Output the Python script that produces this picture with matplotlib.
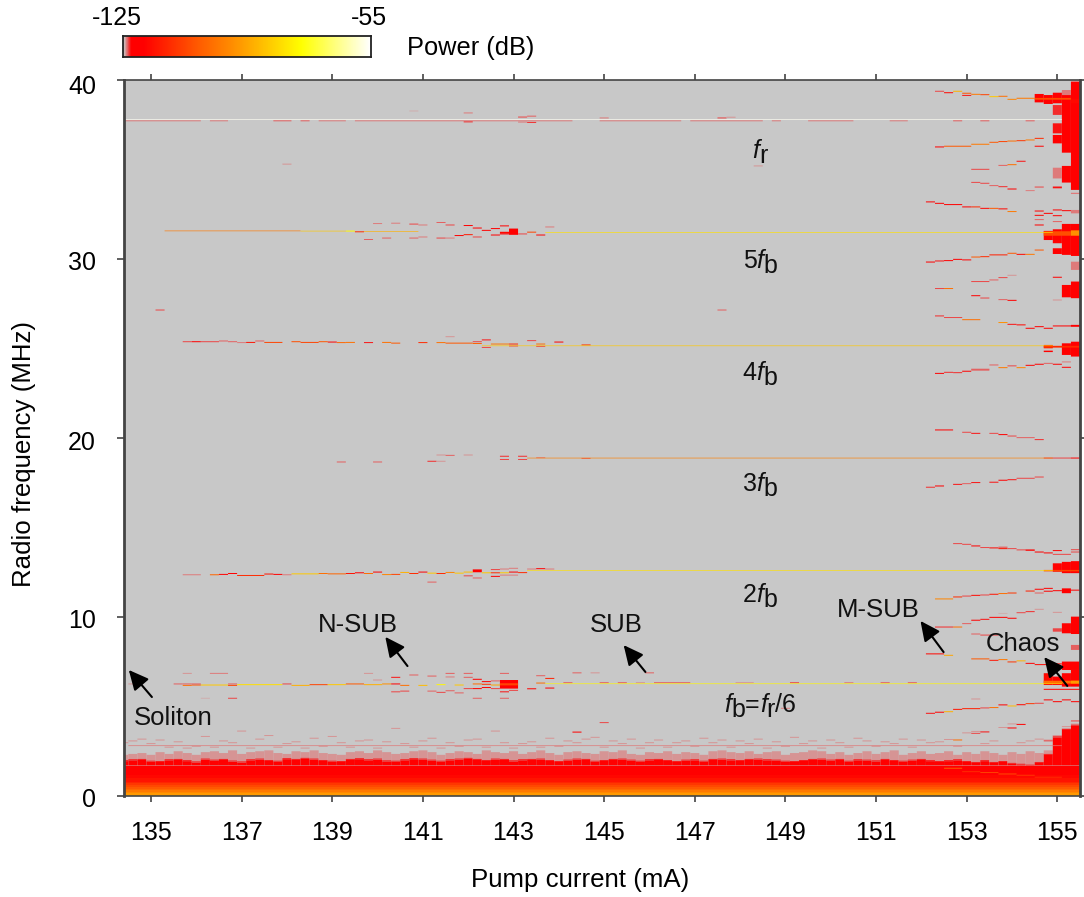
import numpy as np
import matplotlib
matplotlib.use('Agg')
import matplotlib.pyplot as plt
from matplotlib.colors import LinearSegmentedColormap, Normalize
from matplotlib.transforms import ScaledTranslation

plt.rcParams['font.family'] = ['Liberation Sans', 'DejaVu Sans']

# measurement columns, pump current in mA
currents = [round(134.4 + 0.2 * i, 1) for i in range(106)]

# top of the solid low frequency band, one per column
floor_top = [1.95, 2.00, 2.02, 1.92, 1.90, 2.00, 2.02, 1.95, 1.88, 2.04,
             1.98, 2.02, 1.93, 1.88, 2.00, 2.04, 1.96, 1.92, 2.06, 2.02,
             2.08, 2.04, 1.96, 1.92, 1.90, 2.02, 2.06, 2.00, 2.04, 1.94,
             1.92, 2.00, 2.06, 2.04, 1.98, 1.92, 2.00, 2.04, 2.08, 2.02,
             1.96, 2.04, 2.02, 1.94, 2.00, 2.02, 2.04, 1.96, 1.90, 1.98,
             2.04, 2.02, 1.92, 1.96, 2.02, 2.04, 1.98, 1.92, 2.00, 2.02,
             1.96, 1.90, 1.98, 2.00, 1.92, 2.02, 2.04, 2.00, 1.96, 2.02,
             2.04, 2.00, 1.98, 1.92, 1.90, 1.96, 2.02, 2.04, 1.98, 2.02,
             1.92, 2.00, 1.98, 1.94, 2.02, 1.96, 1.92, 1.98, 2.02, 1.95,
             1.90, 1.95, 2.00, 1.90, 1.85, 1.95, 1.85, 1.90, 1.80, 1.75,
             1.70, 1.85, 2.30, 3.28, 3.69, 3.93]

# pale speckle above the band: top of the speckle and a stray row higher up
fringe_low = [2.30, 2.35, 2.40, 2.30, 2.45, 2.35, 2.50, 2.40, 2.30, 2.45,
              2.50, 2.40, 2.55, 2.35, 2.45, 2.50, 2.55, 2.40, 2.35, 2.50,
              2.45, 2.55, 2.40, 2.35, 2.30, 2.45, 2.50, 2.40, 2.55, 2.45,
              2.35, 2.40, 2.50, 2.55, 2.45, 2.30, 2.40, 2.50, 2.45, 2.35,
              2.55, 2.45, 2.40, 2.50, 2.35, 2.45, 2.55, 2.40, 2.30, 2.45,
              2.50, 2.40, 2.35, 2.50, 2.45, 2.55, 2.35, 2.30, 2.45, 2.40,
              2.50, 2.35, 2.45, 2.40, 2.30, 2.50, 2.55, 2.45, 2.40, 2.50,
              2.35, 2.45, 2.50, 2.30, 2.40, 2.45, 2.55, 2.50, 2.35, 2.45,
              2.30, 2.40, 2.50, 2.35, 2.45, 2.55, 2.30, 2.40, 2.50, 2.35,
              2.40, 2.50, 2.30, 2.45, 2.35, 2.50, 2.40, 2.30, 2.45, 2.35,
              2.50, 2.40, 2.55, 3.40, 3.80, 4.05]
fringe_high = [2.95, 3.05, 3.15, 2.90, 3.10, 2.70, 3.00, 2.65, 2.75, 3.30,
               2.70, 3.05, 2.95, 3.60, 2.65, 3.15, 3.35, 2.70, 2.90, 3.00,
               2.65, 3.20, 2.75, 3.30, 2.95, 2.70, 3.05, 3.10, 2.65, 3.00,
               3.75, 2.90, 2.70, 3.05, 3.20, 2.65, 2.95, 2.75, 3.10, 3.15,
               2.70, 3.60, 2.95, 2.65, 2.90, 3.00, 2.70, 3.20, 2.75, 3.05,
               2.95, 3.15, 3.25, 2.70, 3.05, 2.90, 3.15, 2.65, 2.95, 3.10,
               2.70, 2.95, 3.05, 2.75, 3.20, 2.95, 3.10, 2.70, 3.05, 2.90,
               3.15, 2.65, 3.00, 2.75, 3.25, 2.90, 3.05, 2.65, 3.10, 2.95,
               2.70, 3.20, 3.05, 2.75, 3.00, 2.90, 3.15, 2.70, 3.10, 2.95,
               3.00, 3.13, 2.75, 3.50, 3.58, 2.90, 3.05, 3.80, 4.00, 2.95,
               3.05, 3.15, 3.10, 3.35, 3.85, 4.15]

# vertical profile of the band, edges in MHz and power in dB
floor_freqs = [0, 0.08, 0.16, 0.24, 0.32, 0.4, 0.5, 0.6, 0.7, 0.8, 1.0, 1.2, 1.4, 1.7]
floor_power = [-89, -92, -95, -98, -101, -104, -107, -110, -113, -116, -118, -120, -122]

# continuous locked lines: first mA, last mA, MHz, dB
stable_lines = [
    (134.4, 155.0, 37.80, -56),
    (143.8, 154.8, 31.48, -80),
    (142.4, 154.8, 25.15, -84),
    (143.4, 154.8, 18.88, -97),
    (143.4, 154.8, 12.59, -80),
    (143.8, 155.0, 6.27, -76),
    (135.4, 138.2, 31.57, -98),
    (138.4, 139.2, 31.56, -84),
    (139.8, 140.8, 31.53, -88),
]

# single rows: first mA, last mA, MHz, dB
runs = [
    # fr
    (134.4, 136.0, 37.72, -124.0), (136.4, 136.6, 37.72, -124.0), (137.8, 138.0, 37.72, -123.8),
    (138.4, 138.4, 37.72, -123.8), (138.8, 139.2, 37.72, -124.0), (139.6, 144.2, 37.72, -124.0),
    (145.0, 146.6, 37.72, -124.0), (147.0, 148.4, 37.72, -124.0), (148.8, 148.8, 37.72, -124.0),
    (149.6, 150.4, 37.72, -124.0), (151.4, 151.6, 37.72, -124.0), (152.8, 152.8, 37.72, -123.8),
    (153.4, 153.4, 37.72, -123.8), (154.4, 154.4, 37.72, -123.8), (142.0, 142.0, 37.66, -123.2),
    (142.0, 142.0, 38.16, -124.0), (143.2, 143.2, 37.93, -123.6), (143.2, 143.2, 37.65, -124.0),
    (143.4, 143.4, 37.98, -123.8), (143.4, 143.4, 37.63, -123.2), (145.0, 145.0, 37.88, -124.0),
    (147.6, 147.6, 37.88, -123.6), (147.8, 147.8, 37.92, -124.2), (140.8, 140.8, 38.27, -124.5),
    (138.0, 138.0, 35.30, -124.4), (148.4, 148.4, 35.20, -124.4),
    # 5fb, low current part
    (139.4, 139.4, 31.56, -76), (139.6, 139.6, 31.52, -112),
    (140.0, 140.0, 31.98, -124.0), (139.8, 139.8, 31.09, -123.8),
    (140.2, 140.2, 31.17, -123.8), (140.4, 140.4, 32.00, -124.0), (140.8, 140.8, 31.95, -123.6),
    (140.8, 140.8, 31.17, -123.8), (141.0, 141.0, 31.90, -124.0), (141.0, 141.0, 31.23, -124.0),
    (141.4, 141.4, 32.04, -123.8), (141.4, 141.4, 31.17, -123.6), (141.6, 141.6, 31.90, -123.6),
    (141.6, 141.6, 31.17, -124.0), (141.8, 141.8, 31.31, -122.5), (142.0, 142.0, 31.36, -115),
    (142.2, 142.2, 31.73, -122.5), (142.2, 142.2, 31.23, -123.6), (142.4, 142.4, 31.60, -122),
    (142.6, 142.6, 31.70, -122), (142.6, 142.6, 31.34, -122), (142.8, 142.8, 31.85, -122),
    (142.8, 142.8, 31.40, -122), (143.2, 143.2, 31.40, -123.4), (143.4, 143.4, 31.50, -108),
    (143.6, 143.6, 31.34, -122), (143.8, 143.8, 31.79, -124.0), (142.0, 142.0, 31.87, -122),
    # 4fb, low current part
    (135.8, 135.8, 25.38, -123.6), (136.0, 136.0, 25.38, -122), (136.2, 136.4, 25.38, -123.6),
    (136.6, 136.6, 25.42, -123.8), (136.8, 136.8, 25.38, -123.8), (137.0, 137.0, 25.33, -124.0),
    (137.2, 137.2, 25.34, -116), (137.4, 137.4, 25.42, -123.8), (137.6, 137.8, 25.34, -108),
    (138.2, 138.2, 25.38, -106), (138.4, 138.6, 25.34, -108), (138.8, 138.8, 25.38, -104),
    (139.0, 139.0, 25.36, -122), (139.2, 139.2, 25.33, -102), (139.4, 139.4, 25.34, -100),
    (139.8, 139.8, 25.33, -123), (140.2, 140.2, 25.34, -100), (140.4, 140.4, 25.30, -104),
    (141.0, 141.0, 25.33, -112), (141.4, 141.4, 25.33, -100), (141.6, 141.6, 25.66, -124.2),
    (141.6, 142.0, 25.30, -104), (142.2, 142.2, 25.38, -123.6), (142.2, 142.2, 25.28, -102),
    (142.4, 142.4, 25.48, -123), (142.4, 142.4, 25.06, -123.4), (142.6, 142.8, 25.25, -98),
    (143.0, 143.0, 25.25, -112), (143.0, 143.0, 25.14, -123.6), (143.4, 143.4, 25.44, -123.6),
    (143.6, 143.6, 25.25, -100), (143.6, 143.6, 25.12, -123.6), (144.0, 144.0, 25.36, -122.5),
    (144.6, 144.6, 25.20, -110), (135.2, 135.2, 27.15, -123.6), (147.6, 147.6, 27.15, -123.8),
    # 3fb, low current part
    (139.2, 139.2, 18.66, -123.8), (140.0, 140.0, 18.66, -123.8), (141.2, 141.2, 18.70, -123.2),
    (141.4, 141.4, 18.70, -124.2), (141.4, 141.4, 19.05, -124.2), (141.6, 141.6, 19.03, -123.8),
    (142.0, 142.0, 19.05, -124.2), (142.8, 142.8, 18.98, -123.2), (142.8, 142.8, 18.80, -123.4),
    (143.2, 143.2, 18.98, -123.2), (143.2, 143.2, 18.80, -123.4), (143.6, 143.6, 18.90, -124.0),
    (144.6, 144.6, 18.86, -123.8),
    # 2fb, low current part
    (135.8, 136.0, 12.36, -124.0), (136.4, 136.4, 12.36, -102), (136.6, 136.6, 12.38, -122.6),
    (136.8, 136.8, 12.43, -122), (137.0, 137.4, 12.32, -112), (137.6, 137.6, 12.40, -116),
    (137.8, 137.8, 12.38, -122), (138.0, 138.0, 12.36, -124.0), (138.2, 138.6, 12.41, -84),
    (138.8, 138.8, 12.43, -100), (139.0, 139.2, 12.41, -102), (139.4, 139.4, 12.43, -116),
    (139.6, 139.6, 12.47, -122), (139.8, 139.8, 12.43, -100), (140.0, 140.0, 12.51, -122),
    (140.2, 140.2, 12.37, -96), (140.4, 140.4, 12.38, -108), (140.6, 140.6, 12.49, -88),
    (140.8, 140.8, 12.43, -112), (141.0, 141.0, 12.51, -122), (141.2, 141.2, 12.45, -84),
    (141.2, 141.2, 11.95, -123.8), (141.4, 141.4, 12.43, -112), (141.6, 141.6, 12.49, -96),
    (141.8, 141.8, 12.45, -84), (142.0, 142.0, 12.51, -86), (142.0, 142.0, 12.30, -123.6),
    (142.2, 142.2, 12.18, -123.8), (142.4, 142.4, 12.47, -84), (142.6, 142.6, 12.65, -123.4),
    (142.6, 142.6, 12.47, -112), (142.6, 142.6, 12.27, -122), (142.8, 142.8, 12.68, -124.0),
    (142.8, 142.8, 12.47, -84), (142.8, 142.8, 12.34, -124.0), (143.0, 143.0, 12.72, -124.0),
    (143.0, 143.0, 12.51, -122), (143.0, 143.0, 12.34, -124.0), (143.2, 143.2, 12.48, -112),
    (143.4, 143.4, 12.68, -124.0), (143.6, 143.6, 12.70, -122), (143.8, 143.8, 12.68, -124.0),
    # fb, low current part
    (134.6, 134.6, 6.26, -124.4), (135.6, 135.6, 6.26, -123.8), (135.8, 135.8, 6.18, -100),
    (135.8, 135.8, 6.26, -123.8), (135.8, 135.8, 6.85, -124.4), (136.0, 136.0, 6.20, -104),
    (136.0, 136.0, 6.26, -123.8), (136.2, 136.6, 6.20, -84), (136.4, 136.6, 6.85, -124.0),
    (136.2, 136.2, 5.46, -124.5), (136.8, 136.8, 6.26, -123.8), (136.8, 136.8, 6.18, -108),
    (136.8, 136.8, 5.46, -123.6), (137.0, 137.8, 6.22, -80), (138.0, 138.0, 6.26, -123.6),
    (138.2, 138.4, 6.18, -88), (138.6, 138.8, 6.22, -108), (139.0, 139.2, 6.22, -84),
    (139.4, 139.6, 6.26, -104), (139.8, 140.0, 6.22, -88), (140.2, 140.2, 6.26, -94),
    (139.8, 139.8, 6.85, -124.2), (140.0, 140.0, 6.48, -124.2), (140.4, 140.4, 6.26, -122),
    (140.4, 140.4, 5.82, -123.6), (140.4, 140.4, 6.63, -123), (140.6, 140.6, 6.18, -100),
    (140.6, 140.6, 5.86, -123.6), (140.8, 140.8, 6.76, -123.8), (141.0, 141.0, 6.18, -86),
    (141.2, 141.2, 6.70, -123.8), (141.2, 141.2, 5.86, -123.8), (141.4, 141.4, 6.22, -76),
    (141.4, 141.4, 5.79, -123.4), (141.6, 141.6, 6.85, -123.8), (141.6, 141.6, 6.65, -124.0),
    (141.6, 141.6, 5.88, -123.8), (141.8, 141.8, 6.20, -84), (141.8, 141.8, 5.76, -123.8),
    (142.0, 142.0, 6.85, -123.8), (142.0, 142.0, 6.63, -123.8), (142.0, 142.0, 6.00, -123.4),
    (142.2, 142.2, 6.52, -122), (142.2, 142.2, 6.26, -100), (142.2, 142.2, 6.00, -122),
    (142.2, 142.2, 5.46, -123.8), (142.4, 142.4, 6.39, -122.5), (142.4, 142.4, 6.24, -110),
    (142.4, 142.4, 6.06, -122), (142.6, 142.6, 6.43, -123.8), (142.6, 142.6, 6.20, -90),
    (142.6, 142.6, 6.00, -123.6), (142.8, 142.8, 6.85, -123.8), (142.8, 142.8, 5.82, -123),
    (142.8, 142.8, 5.46, -123.8), (143.0, 143.0, 5.90, -123.6), (143.4, 143.4, 5.99, -122),
    (143.6, 143.6, 6.72, -123.8), (143.6, 143.6, 6.31, -100), (143.8, 143.8, 6.57, -114),
    (143.8, 143.8, 6.03, -122), (144.2, 144.2, 6.33, -123.8), (144.4, 144.4, 6.88, -123.8),
    (144.8, 144.8, 6.88, -124.2), (145.0, 145.0, 6.33, -123.8), (145.4, 145.4, 6.33, -123.8),
    (145.8, 145.8, 6.33, -124.2), (146.0, 146.0, 6.88, -123.8), (146.2, 146.8, 6.33, -123.8),
    (148.0, 148.2, 6.33, -124.3), (149.2, 149.2, 6.33, -123.6), (150.4, 150.4, 6.33, -124.0),
    (151.2, 151.2, 6.33, -123.8), (151.8, 151.8, 6.33, -123.8), (145.0, 145.0, 4.10, -123.6),
    (144.4, 144.4, 3.57, -122), (149.0, 149.0, 4.90, -124.0),
    # ridges near the chaotic region, upper
    (152.4, 152.4, 39.37, -123.4), (152.6, 152.6, 39.29, -118), (152.8, 152.8, 39.37, -88),
    (153.0, 153.0, 39.26, -104), (153.0, 153.0, 39.14, -123), (153.2, 153.2, 39.20, -98),
    (153.4, 153.4, 39.18, -108), (153.6, 153.6, 39.07, -84), (153.8, 153.8, 39.09, -100),
    (154.0, 154.0, 38.92, -96), (154.2, 154.4, 38.98, -98),
    (152.4, 152.4, 36.26, -122), (152.6, 153.0, 36.30, -104), (153.2, 153.4, 36.41, -98),
    (153.6, 153.6, 36.52, -104), (153.8, 153.8, 36.56, -108), (154.0, 154.0, 36.59, -100),
    (154.2, 154.2, 36.61, -110), (154.4, 154.4, 36.65, -98), (154.6, 154.6, 36.74, -112),
    (154.6, 154.6, 36.30, -122),
    (153.2, 153.4, 35.01, -123.6), (153.8, 153.8, 35.23, -123.8), (154.0, 154.0, 35.27, -100),
    (154.2, 154.2, 35.46, -123), (153.2, 153.2, 34.28, -123.4), (153.4, 153.4, 34.23, -123.4),
    (153.6, 153.6, 34.10, -123.8), (153.8, 153.8, 34.04, -123.2), (154.0, 154.0, 33.91, -122.6),
    (154.4, 154.4, 33.82, -124.0), (154.6, 154.6, 34.02, -123.6),
    (152.2, 152.2, 33.19, -122), (152.4, 152.4, 33.11, -122.5), (152.6, 152.8, 33.04, -122),
    (153.0, 153.0, 32.91, -122), (153.2, 153.2, 32.91, -112), (153.4, 153.4, 32.83, -118),
    (153.6, 153.6, 32.83, -104), (153.8, 153.8, 32.80, -118), (154.0, 154.0, 32.65, -98),
    (154.6, 154.6, 32.68, -122), (154.6, 154.6, 32.44, -122), (154.6, 154.6, 32.20, -123.8),
    (154.6, 154.6, 31.90, -122), (154.8, 154.8, 32.55, -122), (155.0, 155.0, 32.74, -122),
    (155.0, 155.0, 32.42, -122), (155.0, 155.0, 32.09, -123.8), (155.2, 155.2, 32.70, -122),
    (152.2, 152.2, 29.83, -122), (152.4, 152.4, 29.89, -123), (152.6, 152.6, 29.91, -122.6),
    (152.8, 152.8, 29.98, -122), (153.0, 153.0, 29.95, -122), (153.2, 153.2, 30.11, -104),
    (153.4, 153.4, 30.13, -112), (153.6, 153.8, 30.23, -114), (154.0, 154.0, 30.32, -104),
    (154.2, 154.2, 30.26, -118), (154.4, 154.4, 30.26, -98), (154.6, 154.6, 30.50, -104),
    (152.4, 152.4, 28.35, -123.4), (152.6, 152.6, 28.35, -100), (153.2, 153.4, 28.74, -123.4),
    (153.6, 153.6, 28.83, -123.8), (153.8, 153.8, 28.96, -123.6), (154.0, 154.0, 29.09, -124.4),
    (155.0, 155.0, 28.98, -122), (153.2, 153.2, 27.95, -122), (153.4, 153.4, 27.82, -123.4),
    (153.8, 153.8, 27.73, -123.8), (154.0, 154.0, 27.69, -122.5), (155.0, 155.0, 27.71, -124.2),
    (152.4, 152.4, 26.82, -123.2), (152.6, 152.8, 26.73, -123.6), (153.0, 153.2, 26.61, -100),
    (153.8, 153.8, 26.45, -94), (154.0, 154.0, 26.35, -123), (154.2, 154.2, 26.32, -118),
    (154.4, 154.4, 26.13, -122), (154.6, 154.6, 26.22, -122), (154.8, 154.8, 26.13, -122),
    (155.0, 155.4, 26.26, -122),
    (153.2, 153.4, 23.84, -123.4), (153.6, 153.6, 24.08, -123.8), (153.8, 153.8, 23.93, -98),
    (154.0, 154.0, 24.03, -123.4), (154.2, 154.2, 23.93, -96), (154.4, 154.4, 24.06, -122),
    (154.6, 154.6, 24.12, -122), (154.8, 154.8, 24.17, -123.8), (155.0, 155.0, 24.12, -122),
    (155.2, 155.2, 24.25, -124.0), (155.2, 155.2, 23.95, -122),
    # ridges near the chaotic region, middle
    (152.4, 152.4, 23.61, -122.8), (152.6, 152.6, 23.67, -123.2), (152.8, 152.8, 23.65, -123.2),
    (153.0, 153.0, 23.73, -122.5), (153.2, 153.4, 23.79, -123.8),
    (152.4, 152.6, 20.45, -122.5), (153.0, 153.0, 20.32, -123.4), (153.2, 153.2, 20.26, -123),
    (153.6, 153.6, 20.26, -123.6), (153.8, 153.8, 20.19, -122), (154.0, 154.0, 20.11, -123.6),
    (154.2, 154.4, 20.02, -123.8), (154.6, 154.6, 19.91, -123.2),
    (154.8, 155.2, 18.88, -123.6), (155.4, 155.4, 18.88, -122),
    (152.2, 152.2, 17.25, -123.2), (152.4, 152.4, 17.32, -122), (152.8, 152.8, 17.41, -123),
    (153.0, 153.0, 17.45, -123.8), (153.2, 153.2, 17.51, -123), (153.6, 153.6, 17.53, -123),
    (153.8, 153.8, 17.64, -122), (154.0, 154.0, 17.67, -123), (154.2, 154.4, 17.75, -123.6),
    (154.6, 154.6, 17.82, -123.4),
    (152.8, 152.8, 14.10, -123.6), (153.0, 153.0, 14.06, -123.4), (153.2, 153.2, 13.97, -122.6),
    (153.4, 153.4, 13.88, -123.6), (153.6, 153.6, 13.86, -118), (153.8, 153.8, 13.90, -123.6),
    (153.8, 153.8, 13.82, -116), (154.0, 154.0, 13.82, -123.6), (154.2, 154.4, 13.75, -123.6),
    (154.4, 154.4, 13.73, -122), (154.6, 154.6, 13.63, -122.4), (154.8, 154.8, 13.58, -122.4),
    (155.0, 155.0, 13.71, -122), (155.0, 155.2, 13.50, -123.6), (155.4, 155.4, 13.76, -123.6),
    (155.4, 155.4, 13.63, -123.6),
    (152.4, 152.6, 11.01, -96), (152.8, 152.8, 11.12, -112), (153.0, 153.0, 11.17, -123.6),
    (153.2, 153.2, 11.21, -118), (153.4, 153.4, 11.23, -123.4), (153.6, 153.6, 11.27, -116),
    (153.8, 153.8, 11.31, -100), (154.0, 154.0, 11.34, -110), (154.4, 154.4, 11.45, -114),
    (154.6, 154.6, 11.55, -122.4), (154.6, 154.6, 11.34, -123.8), (154.8, 154.8, 11.60, -122),
    (154.8, 154.8, 11.44, -122), (155.0, 155.0, 11.47, -122), (155.4, 155.4, 11.50, -122),
    (152.4, 152.6, 9.44, -123.2), (152.8, 152.8, 9.44, -100), (153.0, 153.0, 9.63, -123.8),
    (153.2, 153.2, 9.82, -122.6), (153.4, 153.4, 9.87, -123), (153.6, 153.8, 9.98, -122.6),
    (154.0, 154.0, 9.93, -122), (154.2, 154.2, 10.24, -123.6), (154.4, 154.4, 10.30, -123.2),
    (154.6, 154.6, 10.43, -124.3), (155.0, 155.0, 10.26, -124.3), (153.8, 153.8, 10.20, -124.5),
    (152.2, 152.4, 7.94, -118), (152.6, 152.6, 7.86, -90), (153.2, 153.2, 9.05, -123.8),
    (153.4, 153.6, 8.99, -123.6), (153.2, 153.4, 7.66, -104), (153.6, 153.6, 7.58, -116),
    (153.8, 153.8, 7.62, -98), (154.0, 154.0, 7.49, -110), (154.2, 154.2, 7.55, -88),
    (154.4, 154.4, 7.41, -122), (154.6, 154.8, 7.34, -118), (155.0, 155.0, 7.38, -122),
    # ridges near the chaotic region, lower
    (152.2, 152.2, 4.62, -123), (152.4, 152.4, 4.68, -122), (152.6, 152.6, 4.71, -88),
    (152.8, 152.8, 4.84, -116), (153.0, 153.2, 4.88, -114), (153.4, 153.4, 4.92, -123.4),
    (153.6, 153.6, 4.94, -100), (153.8, 153.8, 5.09, -122), (154.0, 154.0, 5.03, -86),
    (154.2, 154.2, 5.10, -118), (154.4, 154.4, 5.16, -110), (154.6, 154.6, 5.18, -123.6),
    (153.2, 153.2, 5.42, -124.2), (154.2, 154.2, 4.00, -122.6), (154.0, 154.0, 3.80, -122),
    (153.4, 153.4, 3.58, -123), (153.2, 153.2, 3.50, -123.4), (152.8, 152.8, 3.13, -100),
    (154.8, 154.8, 3.08, -123.6), (155.4, 155.4, 4.20, -123.8),
    (154.8, 155.4, 5.96, -122), (154.8, 154.8, 5.37, -122.6), (155.0, 155.0, 5.27, -122),
    (155.2, 155.2, 5.37, -122), (155.4, 155.4, 5.27, -122),
    # streak inside the band
    (152.6, 152.8, 1.55, -104), (153.0, 153.2, 1.36, -112), (153.4, 153.6, 1.31, -108),
    (153.8, 154.0, 1.23, -106), (154.2, 154.4, 1.16, -110), (154.6, 155.0, 1.05, -112),
]

# row at 2.79 MHz that runs along the top of the band
band_edge_row = (134.6, 155.0, 2.79, -124.0)

# thick patches: first mA, last mA, low MHz, high MHz, dB
blocks = [
    (155.4, 155.4, 33.86, 39.91, -122), (155.4, 155.4, 33.63, 33.70, -124.0),
    (155.4, 155.4, 32.55, 32.74, -124.0), (155.4, 155.4, 30.17, 31.96, -122),
    (155.4, 155.4, 29.39, 29.85, -124.0), (155.4, 155.4, 27.81, 28.74, -122),
    (155.4, 155.4, 26.22, 26.32, -122), (155.4, 155.4, 24.55, 25.38, -122),
    (155.2, 155.2, 35.94, 39.16, -122), (155.2, 155.2, 39.16, 39.44, -124.0),
    (155.2, 155.2, 34.27, 35.20, -122), (155.2, 155.2, 30.23, 31.96, -122),
    (155.2, 155.2, 27.86, 28.55, -122), (155.2, 155.2, 24.64, 25.29, -122),
    (155.0, 155.0, 38.70, 39.29, -122), (155.0, 155.0, 38.05, 38.60, -123.2),
    (155.0, 155.0, 37.02, 37.58, -123), (155.0, 155.0, 36.46, 36.93, -122.6),
    (155.0, 155.0, 34.50, 35.10, -124.0), (155.0, 155.0, 33.95, 34.05, -123),
    (155.0, 155.0, 30.88, 31.66, -122), (155.0, 155.0, 30.28, 30.60, -122),
    (154.8, 154.8, 38.66, 39.16, -122), (154.8, 154.8, 31.06, 31.57, -122),
    (154.8, 154.8, 25.01, 25.20, -112), (154.8, 154.8, 24.80, 24.88, -122),
    (154.6, 154.6, 38.75, 39.22, -122),
    (154.6, 155.2, 38.90, 39.00, -106), (155.4, 155.4, 38.70, 38.95, -118),
    (154.8, 155.2, 31.30, 31.55, -106), (155.4, 155.4, 31.30, 31.60, -94),
    (154.8, 155.4, 25.05, 25.15, -112),
    # 2fb and fb clusters
    (155.0, 155.0, 12.53, 13.00, -122), (155.2, 155.2, 12.45, 13.08, -122),
    (155.4, 155.4, 12.45, 13.12, -122), (154.8, 155.4, 12.55, 12.63, -108),
    (155.2, 155.2, 11.33, 11.60, -122), (155.0, 155.0, 9.18, 9.37, -123.4),
    (155.4, 155.4, 9.05, 10.02, -122), (155.2, 155.2, 9.09, 9.65, -122),
    (155.4, 155.4, 8.16, 8.44, -123.8), (155.2, 155.4, 7.04, 7.51, -122),
    (154.8, 154.8, 6.20, 6.86, -118), (155.0, 155.0, 6.20, 6.67, -122),
    (155.2, 155.2, 6.11, 6.86, -122), (155.4, 155.4, 6.11, 7.04, -122),
    (154.8, 155.4, 6.28, 6.44, -100), (155.4, 155.4, 6.28, 6.44, -92),
    (142.8, 143.0, 6.00, 6.48, -122), (142.8, 143.0, 6.18, 6.30, -108),
    (142.8, 142.8, 31.42, 31.52, -118), (143.0, 143.0, 31.35, 31.70, -122),
    (142.2, 142.2, 12.50, 12.66, -122),
]

tick_currents = [135, 137, 139, 141, 143, 145, 147, 149, 151, 153, 155]
tick_freqs = [0, 10, 20, 30, 40]

# pieces of the harmonic labels: text, italic or not, subscript or not; then mA, MHz
harmonic_labels = [
    ([('f', 1, 0), ('r', 0, 1)], 148.44, 36.15),
    ([('5', 0, 0), ('f', 1, 0), ('b', 0, 1)], 148.44, 30.0),
    ([('4', 0, 0), ('f', 1, 0), ('b', 0, 1)], 148.44, 23.74),
    ([('3', 0, 0), ('f', 1, 0), ('b', 0, 1)], 148.44, 17.54),
    ([('2', 0, 0), ('f', 1, 0), ('b', 0, 1)], 148.44, 11.34),
    ([('f', 1, 0), ('b', 0, 1), ('=', 0, 0), ('f', 1, 0), ('r', 0, 1), ('/6', 0, 0)], 148.44, 5.2),
]

# text, mA, MHz
region_labels = [
    ('Soliton', 135.5, 4.36),
    ('N-SUB', 139.57, 9.55),
    ('SUB', 145.27, 9.55),
    ('M-SUB', 151.05, 10.4),
    ('Chaos', 154.25, 8.5),
]

# tail mA, tail MHz, tip mA, tip MHz
arrows = [
    (135.02, 5.53, 134.51, 7.04),
    (140.66, 7.26, 140.17, 8.89),
    (145.91, 6.93, 145.43, 8.43),
    (152.49, 8.04, 151.98, 9.78),
    (155.22, 6.15, 154.71, 7.76),
]

cmap = LinearSegmentedColormap.from_list('power', [
    (0.0, '#c8c8c8'), (0.03, '#ff0000'), (0.08, '#ff0000'), (0.3, '#ff5a00'),
    (0.47, '#ff9900'), (0.72, '#ffff00'), (1.0, '#ffffff')])
norm = Normalize(-125, -55)
ROW_H = 0.055
LINE_H = 0.035


def add_rect(ax, first, last, low, high, power):
    ax.barh(low, last - first + 0.2, height=high - low, left=first - 0.1, align='edge',
            color=cmap(norm(power)), linewidth=0, snap=False)


def add_harmonic_label(ax, parts, x, y):
    # same size subscripts, mathtext would shrink them
    renderer = ax.figure.canvas.get_renderer()
    items = []
    for text, italic, sub in parts:
        items.append(ax.annotate(text, (x, y), xytext=(0, 0), textcoords='offset pixels', fontsize=18,
                                 style='italic' if italic else 'normal', va='baseline', ha='left',
                                 color='#111111'))
    widths = [item.get_window_extent(renderer).width for item in items]
    cursor = -sum(widths) / 2
    for item, part, width in zip(items, parts, widths):
        item.xyann = (cursor, -14 if part[2] else -9)
        cursor += width


fig = plt.figure(figsize=(10.84, 8.97), dpi=100)
W, H = 1084.0, 897.0
ax = fig.add_axes([123.8 / W, 1 - 796 / H, (1080 - 123.8) / W, (796 - 80) / H])
ax.set_facecolor('#c8c8c8')

# low frequency band
edges = [round(c - 0.1, 1) for c in currents] + [currents[-1] + 0.1]
grid = np.array([floor_power] * len(currents)).T
ax.pcolormesh(edges, floor_freqs, grid, cmap=cmap, norm=norm, antialiased=False)
for c, top, low, high in zip(currents, floor_top, fringe_low, fringe_high):
    add_rect(ax, c, c, 1.7, top, -122.4)
    add_rect(ax, c, c, top, low, -124.2)
    add_rect(ax, c, c, top, top + 0.05, -123)
    add_rect(ax, c, c, high, high + ROW_H, -124.2)
first, last, f, power = band_edge_row
add_rect(ax, first, last, f, f + 0.04, power)

for first, last, low, high, power in blocks:
    add_rect(ax, first, last, low, high, power)
for first, last, f, power in runs:
    add_rect(ax, first, last, f - ROW_H / 2, f + ROW_H / 2, power)
for first, last, f, power in stable_lines:
    add_rect(ax, first, last, f - LINE_H / 2, f + LINE_H / 2, power)

ax.set_xlim(134.4, 155.5)
ax.set_ylim(0, 40)
ax.set_xticks(tick_currents)
ax.set_yticks(tick_freqs)
ax.tick_params(axis='x', which='both', top=True, length=4, width=1.2, color='#444444',
               labelsize=18, pad=14)
ax.tick_params(axis='y', right=True, length=5, width=1.2, color='#444444',
               labelsize=18, pad=15)
for name, spine in ax.spines.items():
    spine.set_color('#444444')
    spine.set_linewidth(2.0 if name in ('left', 'right') else 1.2)
ax.set_axisbelow(False)

# tick labels sit a little under their ticks in the original
for label, shift in zip(ax.get_yticklabels(), [1, 1, 2, 2, 5]):
    label.set_transform(label.get_transform() + ScaledTranslation(0, -shift / 100, fig.dpi_scale_trans))

fig.text(580 / W, 1 - 880 / H, 'Pump current (mA)', fontsize=18.6, ha='center', va='center')
fig.text(24 / W, 1 - 454 / H, 'Radio frequency (MHz)', fontsize=18.6, ha='center', va='center',
         rotation=90)

for parts, x, y in harmonic_labels:
    add_harmonic_label(ax, parts, x, y)
for text, x, y in region_labels:
    ax.text(x, y, text, fontsize=18.5, ha='center', va='center', color='#111111')
for x0, y0, x1, y1 in arrows:
    ax.annotate('', xy=(x1, y1), xytext=(x0, y0),
                arrowprops=dict(arrowstyle='-|>,head_length=1.0,head_width=0.48', mutation_scale=12,
                                lw=1.5, color='black', shrinkA=0, shrinkB=0))

# colour bar
cax = fig.add_axes([123 / W, 1 - 57 / H, (371 - 123) / W, (57 - 36) / H])
cax.imshow(np.linspace(0, 1, 400)[None, :], aspect='auto', cmap=cmap, extent=[-125, -55, 0, 1])
cax.set_xticks([])
cax.set_yticks([])
for spine in cax.spines.values():
    spine.set_linewidth(1.3)
    spine.set_color('#222222')
fig.text(117 / W, 1 - 18 / H, '-125', fontsize=18, ha='center', va='center')
fig.text(369 / W, 1 - 18 / H, '-55', fontsize=18, ha='center', va='center')
fig.text(407 / W, 1 - 48 / H, 'Power (dB)', fontsize=18.3, ha='left', va='center')

fig.savefig('out.png', dpi=100)
